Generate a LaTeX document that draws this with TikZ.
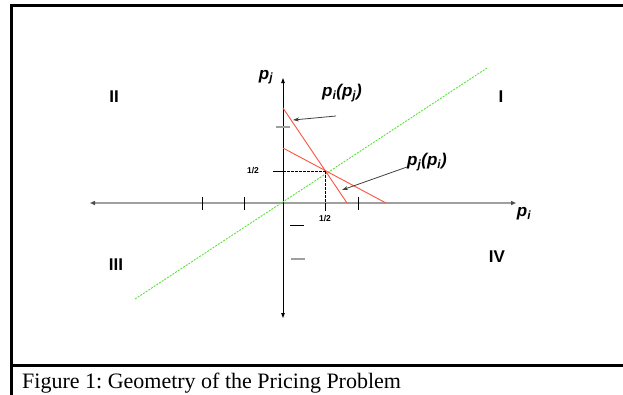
\documentclass[tikz,border=0pt]{standalone}
\usepackage{fontspec}
\setmainfont{Liberation Serif}
\newfontfamily\lsans{Liberation Sans}
\usetikzlibrary{arrows.meta,positioning}
\definecolor{brred}{RGB}{250,85,65}
\definecolor{diaggreen}{RGB}{90,225,60}
\tikzset{
  frm/.style={line width=3pt,line cap=rect},
  haxis/.style={gray!75,line width=2pt,{Triangle[length=5pt,width=4pt,black!70]}-{Triangle[length=5pt,width=4pt,black!70]}},
  vaxis/.style={black,line width=0.8pt,{Triangle[length=5pt,width=3.5pt]}-{Triangle[length=5pt,width=3.5pt]}},
  resp/.style={brred,line width=0.9pt},
  diag/.style={diaggreen,line width=0.9pt,dash pattern=on 2pt off 1.2pt},
  tck/.style={black,line width=0.8pt},
  gtck/.style={gray!75,line width=2pt},
  guide/.style={black,line width=0.7pt,dash pattern=on 2.5pt off 1.5pt},
  ptr/.style={black!75,line width=0.8pt,-{Stealth[length=6pt,width=4pt]}},
  quad/.style={font=\lsans\bfseries\fontsize{17}{17}\selectfont},
  plbl/.style={font=\lsans\bfseries\itshape\fontsize{17}{17}\selectfont},
  half/.style={font=\lsans\bfseries\fontsize{8.5}{8.5}\selectfont}
}
\newcommand{\pv}[1]{\textit{p}\textsubscript{\textit{#1}}}
\frenchspacing

\begin{document}
\begin{tikzpicture}[x=1pt,y=-1pt]
  \useasboundingbox (0,0) rectangle (623,394);
  % Frame
  \draw[frm] (623,5) -- (11,5) -- (11,394);
  \draw[frm] (11,365) -- (623,365);
  \node[anchor=base west,font=\fontsize{22}{22}\selectfont,inner sep=0pt] (cap) at (22,388) {Figure 1: Geometry of the Pricing Problem};

  % Axes
  \coordinate (O) at (283,203);
  \coordinate (xl) at (90,203);
  \coordinate (xr) at (516,203);
  \coordinate (yt) at (283,78);
  \coordinate (yb) at (283,318);
  \draw[haxis] (xl) -- (xr);
  \draw[vaxis] (yb) -- (yt);
  \node[plbl] (pjax) at (266,77) {\pv{j}};
  \node[plbl] (piax) at (524,214) {\pv{i}};

  % Ticks on the axes
  \foreach \x in {202,244,358}
    \draw[tck] (\x,197) -- (\x,210);
  \draw[gtck] (276,127) -- (290,127);
  \draw[tck] (290,225) -- (304,225);
  \draw[gtck] (291,259) -- (305,259);

  % Diagonal
  \coordinate (d1) at (135,299);
  \coordinate (d2) at (487,68);
  \draw[diag] (d1) -- (d2);

  % Reaction lines
  \coordinate (E) at (325,171);
  \coordinate (ra) at (283,108);
  \coordinate (rb) at (347,203);
  \coordinate (sa) at (283,148);
  \coordinate (sb) at (386,203);
  \draw[resp] (ra) -- (rb);
  \draw[resp] (sa) -- (sb);

  % Equilibrium guides
  \draw[tck] (273,171) -- (283,171);
  \draw[guide] (283,171) -- (E);
  \draw[guide] (E) -- (325,203);
  \draw[tck] (325,203) -- (325,211);
  \node[half] (hy) at (253,171) {1/2};
  \node[half] (hx) at (325,218) {1/2};

  % Labels and pointers
  \node[plbl] (bri) at (342,93) {\pv{i}(\pv{j})};
  \node[plbl] (brj) at (427,162) {\pv{j}(\pv{i})};
  \coordinate (t1) at (336,116);
  \coordinate (h1) at (293,120);
  \coordinate (t2) at (407,167);
  \coordinate (h2) at (342,190);
  \draw[ptr] (t1) -- (h1);
  \draw[ptr] (t2) -- (h2);

  % Quadrants
  \node[quad] (q2) at (114,97) {II};
  \node[quad] (q1) at (501,97) {I};
  \node[quad] (q3) at (116,265) {III};
  \node[quad] (q4) at (497,257) {IV};
\end{tikzpicture}
\end{document}
